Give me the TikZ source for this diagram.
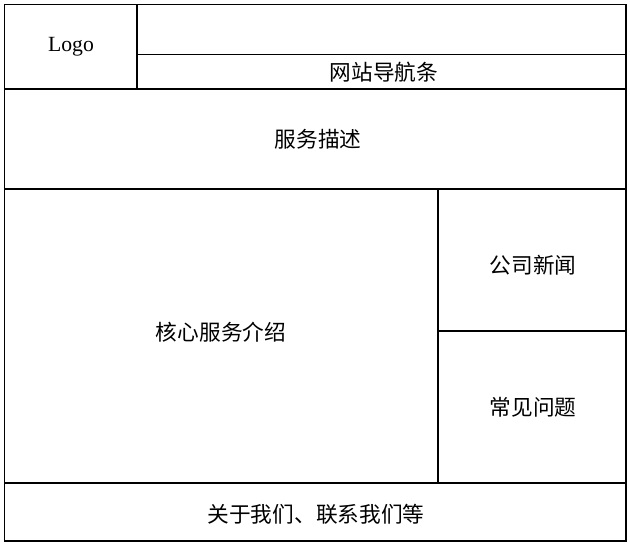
\documentclass[tikz,border=0pt]{standalone}
\usepackage{fontspec}
\setmainfont{Liberation Serif}
\newfontfamily\cjk{Noto Sans CJK SC}
\usetikzlibrary{positioning}

\begin{document}
\begin{tikzpicture}[
            x=0.03cm, y=-0.03cm,
            frame/.style={draw=black, line width=1.6pt},
            label/.style={font=\fontsize{18.5}{22}\selectfont\cjk, inner sep=0pt},
            logotext/.style={font=\fontsize{18.5}{22}\selectfont, inner sep=0pt}
        ]
            \useasboundingbox (0,0) rectangle (630,545);
            % Boxes
            \draw[frame] (4.5,4.5) rectangle (626,541);
            \draw[frame] (4.5,4.5) rectangle (137,89);
            \draw[frame] (137,54.5) -- (626,54.5);
            \draw[frame] (4.5,89) -- (626,89);
            \draw[frame] (4.5,189) -- (626,189);
            \draw[frame] (438,189) -- (438,483);
            \draw[frame] (438,331) -- (626,331);
            \draw[frame] (4.5,483) -- (626,483);

            % Texts
            \node[logotext] (logo) at (71,47) {Logo};
            \node[label] (nav) at (384,72) {网站导航条};
            \node[label] (desc) at (318,139) {服务描述};
            \node[label] (core) at (221,332) {核心服务介绍};
            \node[label] (news) at (533,265) {公司新闻};
            \node[label] (faq) at (533,407) {常见问题};
            \node[label] (footer) at (316,514) {关于我们、联系我们等};
        \end{tikzpicture}
\end{document}
